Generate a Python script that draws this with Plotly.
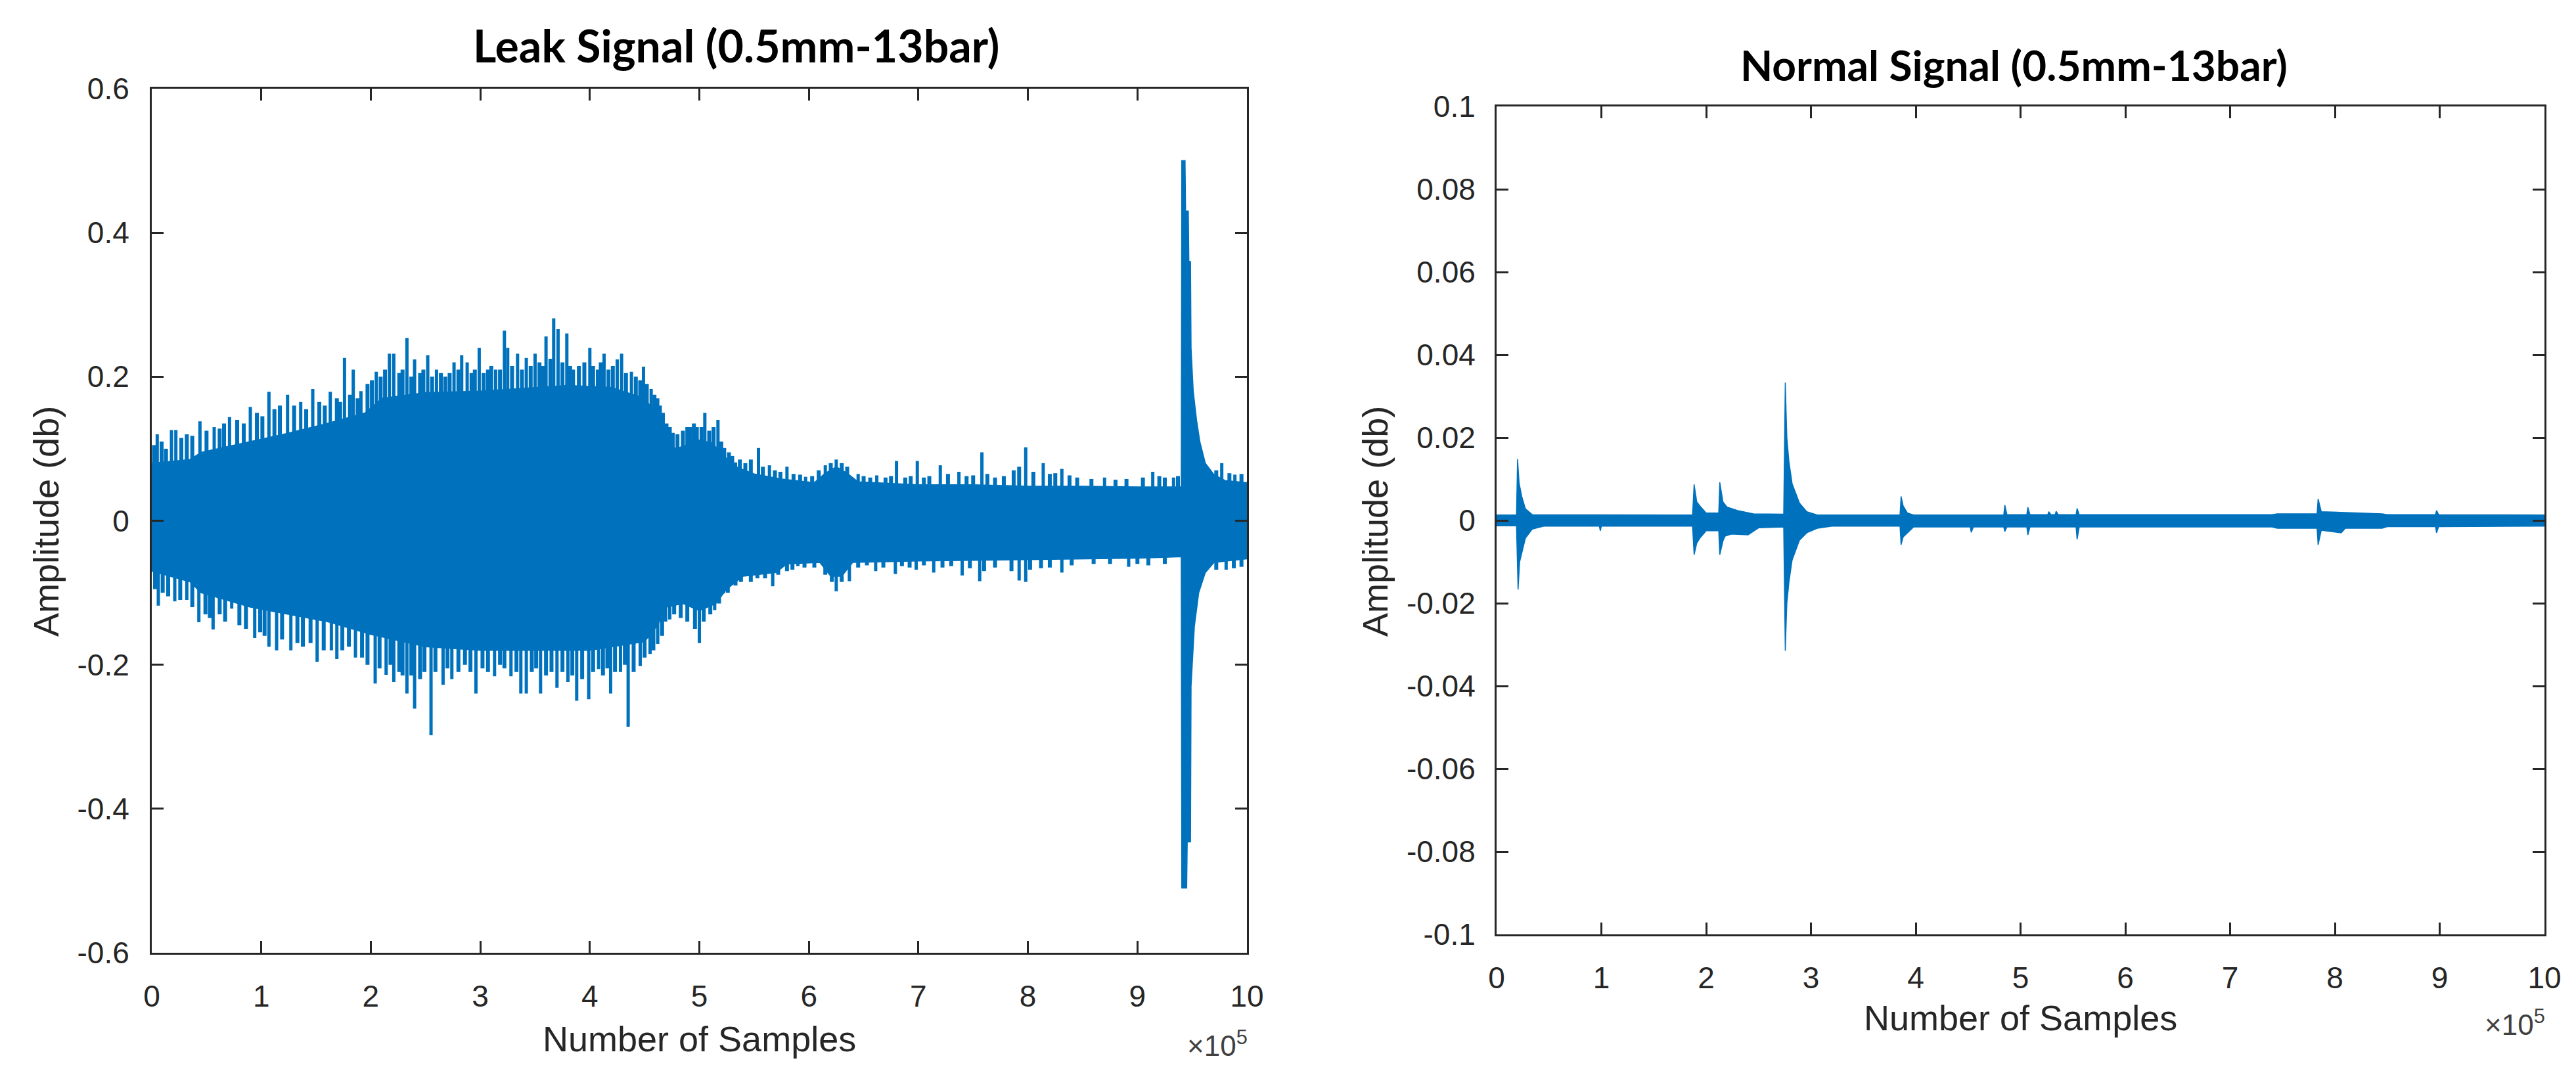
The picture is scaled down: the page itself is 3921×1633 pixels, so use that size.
import plotly.graph_objects as go

W, H = 3921, 1633
BLUE = "#0072BD"
AX = "#262626"

# ---------------- data (x in units of 1e5 samples) ----------------
x_ticks = [0, 1, 2, 3, 4, 5, 6, 7, 8, 9, 10]
x_tick_labels = ["0", "1", "2", "3", "4", "5", "6", "7", "8", "9", "10"]
leak_y_ticks = [-0.6, -0.4, -0.2, 0, 0.2, 0.4, 0.6]
leak_y_labels = ["-0.6", "-0.4", "-0.2", "0", "0.2", "0.4", "0.6"]
normal_y_ticks = [-0.1, -0.08, -0.06, -0.04, -0.02, 0, 0.02, 0.04, 0.06, 0.08, 0.1]
normal_y_labels = ["-0.1", "-0.08", "-0.06", "-0.04", "-0.02", "0", "0.02", "0.04", "0.06", "0.08", "0.1"]

# Leak signal: solid envelope (upper / lower)
leak_up_x = [0, 0.35, 0.45, 0.9, 1.2, 1.6, 1.95, 2.1, 2.5, 3.0, 3.5, 3.8, 4.2, 4.5, 4.6, 4.68,
             4.78, 4.88, 5.0, 5.12, 5.22, 5.35, 5.5, 5.75, 6.05, 6.15, 6.25, 6.35, 6.45, 7.0,
             7.5, 8.0, 8.5, 9.0, 9.40, 9.405, 9.435, 9.44, 9.465, 9.47, 9.485, 9.49, 9.51,
             9.54, 9.57, 9.62, 9.70, 9.80, 10.0]
leak_up = [0.08, 0.085, 0.095, 0.11, 0.12, 0.135, 0.15, 0.17, 0.178, 0.18, 0.185, 0.188, 0.185,
           0.17, 0.15, 0.125, 0.10, 0.105, 0.112, 0.108, 0.09, 0.074, 0.065, 0.058, 0.053, 0.066,
           0.075, 0.066, 0.054, 0.05, 0.05, 0.048, 0.048, 0.047, 0.047, 0.50, 0.50, 0.43, 0.43,
           0.36, 0.36, 0.24, 0.18, 0.14, 0.11, 0.08, 0.064, 0.056, 0.053]
leak_lo_x = [0, 0.35, 0.45, 0.9, 1.6, 2.0, 2.5, 3.0, 3.5, 4.0, 4.5, 4.62, 4.7, 4.85, 5.0, 5.15,
             5.25, 5.4, 5.7, 5.8, 6.1, 6.2, 6.3, 6.4, 7.0, 8.0, 9.0, 9.40, 9.405, 9.45, 9.455,
             9.485, 9.49, 9.52, 9.56, 9.62, 9.70, 10.0]
leak_lo = [-0.07, -0.085, -0.1, -0.12, -0.14, -0.158, -0.175, -0.18, -0.18, -0.18, -0.168,
           -0.145, -0.12, -0.115, -0.125, -0.115, -0.095, -0.077, -0.072, -0.06, -0.058, -0.077,
           -0.077, -0.058, -0.056, -0.054, -0.052, -0.05, -0.51, -0.51, -0.446, -0.446, -0.23,
           -0.147, -0.10, -0.072, -0.058, -0.053]

# Leak signal: tallest individual peaks above / below the solid envelope
leak_peak_up_x = [0.05, 0.18, 0.22, 0.44, 0.57, 0.71, 0.90, 1.07, 1.24, 1.36, 1.47, 1.63, 1.76,
                  1.84, 1.91, 2.05, 2.17, 2.21, 2.33, 2.40, 2.52, 2.60, 2.76, 2.83, 2.88, 2.99,
                  3.14, 3.22, 3.25, 3.34, 3.42, 3.50, 3.60, 3.67, 3.71, 3.79, 3.85, 4.00, 4.07,
                  4.13, 4.25, 4.29, 4.38, 4.49, 4.56, 4.62, 4.67, 4.76, 4.92, 4.98, 5.05, 5.17,
                  5.23, 5.33, 5.54, 5.64, 5.80, 5.97, 6.15, 6.25, 6.45, 6.62, 6.80, 6.99, 7.20,
                  7.37, 7.58, 7.98, 8.14, 8.31, 8.70, 9.14, 9.33, 9.77, 9.89]
leak_peak_up = [0.12, 0.126, 0.126, 0.138, 0.13, 0.144, 0.158, 0.179, 0.175, 0.165, 0.183, 0.179,
                0.226, 0.21, 0.18, 0.207, 0.232, 0.232, 0.254, 0.224, 0.23, 0.21, 0.22, 0.23,
                0.22, 0.24, 0.21, 0.264, 0.24, 0.232, 0.226, 0.232, 0.256, 0.281, 0.266, 0.26,
                0.21, 0.24, 0.21, 0.232, 0.224, 0.232, 0.207, 0.214, 0.183, 0.17, 0.15, 0.122,
                0.13, 0.13, 0.15, 0.14, 0.101, 0.081, 0.101, 0.077, 0.075, 0.061, 0.077, 0.085,
                0.065, 0.063, 0.083, 0.083, 0.077, 0.068, 0.095, 0.102, 0.080, 0.072, 0.06,
                0.068, 0.06, 0.08, 0.064]
leak_peak_lo_x = [0.06, 0.21, 0.32, 0.43, 0.56, 0.73, 0.94, 1.07, 1.14, 1.27, 1.51, 1.64, 1.69,
                  1.86, 2.04, 2.14, 2.21, 2.33, 2.40, 2.55, 2.66, 2.74, 2.96, 3.13, 3.28, 3.37,
                  3.42, 3.55, 3.70, 3.80, 3.88, 3.99, 4.08, 4.19, 4.28, 4.35, 4.46, 4.55, 4.62,
                  4.73, 4.93, 5.00, 5.14, 5.22, 5.41, 5.67, 5.90, 6.25, 6.37, 6.61, 6.79, 6.98,
                  7.14, 7.40, 7.56, 7.92, 7.98, 8.31, 8.92, 9.81]
leak_peak_lo = [-0.118, -0.112, -0.11, -0.141, -0.151, -0.122, -0.163, -0.175, -0.18, -0.18,
                -0.196, -0.18, -0.192, -0.19, -0.226, -0.214, -0.224, -0.24, -0.261, -0.298,
                -0.228, -0.22, -0.24, -0.216, -0.216, -0.24, -0.24, -0.24, -0.232, -0.224,
                -0.25, -0.248, -0.206, -0.24, -0.21, -0.286, -0.202, -0.185, -0.171, -0.137,
                -0.118, -0.17, -0.124, -0.101, -0.077, -0.091, -0.063, -0.098, -0.084, -0.07,
                -0.074, -0.068, -0.072, -0.076, -0.084, -0.083, -0.085, -0.072, -0.064, -0.068]

# Leak signal: the dense lower "grass" of peaks between the envelope and the tall peaks
leak_ripple_up_x = [0.02, 0.09, 0.13, 0.27, 0.32, 0.37, 0.50, 0.62, 0.66, 0.78, 0.84, 0.96, 1.01,
                    1.12, 1.17, 1.30, 1.41, 1.53, 1.58, 1.69, 1.72, 1.81, 1.88, 1.97, 2.01, 2.09,
                    2.13, 2.26, 2.29, 2.37, 2.45, 2.48, 2.56, 2.64, 2.68, 2.72, 2.80, 2.92, 2.95,
                    3.03, 3.07, 3.10, 3.18, 3.29, 3.38, 3.46, 3.54, 3.57, 3.64, 3.75, 3.82, 3.90,
                    3.95, 4.03, 4.10, 4.17, 4.21, 4.33, 4.42, 4.46, 4.52, 4.59, 4.64, 4.70, 4.73,
                    4.80, 4.85, 4.89, 4.95, 5.02, 5.09, 5.13, 5.20, 5.27, 5.30, 5.37, 5.42, 5.47,
                    5.58, 5.69, 5.74, 5.86, 5.92, 6.03, 6.09, 6.20, 6.30, 6.35, 6.50, 6.56, 6.70,
                    6.75, 6.88, 6.93, 7.05, 7.10, 7.27, 7.44, 7.50, 7.63, 7.70, 7.78, 7.87, 7.92,
                    8.05, 8.20, 8.25, 8.38, 8.45, 8.58, 8.80, 8.90, 9.05, 9.20, 9.25, 9.37, 9.72,
                    9.84, 9.95]
leak_ripple_up = [0.105, 0.11, 0.10, 0.115, 0.12, 0.118, 0.125, 0.128, 0.135, 0.14, 0.135, 0.15,
                  0.145, 0.155, 0.16, 0.16, 0.155, 0.165, 0.16, 0.17, 0.165, 0.175, 0.17, 0.19,
                  0.195, 0.2, 0.21, 0.205, 0.21, 0.2, 0.205, 0.21, 0.2, 0.205, 0.2, 0.205, 0.21,
                  0.205, 0.21, 0.205, 0.21, 0.215, 0.21, 0.215, 0.21, 0.215, 0.22, 0.215, 0.225,
                  0.22, 0.215, 0.215, 0.22, 0.215, 0.22, 0.21, 0.215, 0.205, 0.2, 0.195, 0.19,
                  0.175, 0.16, 0.135, 0.13, 0.12, 0.125, 0.13, 0.135, 0.13, 0.125, 0.13, 0.11,
                  0.095, 0.09, 0.085, 0.08, 0.085, 0.075, 0.07, 0.068, 0.065, 0.064, 0.062, 0.07,
                  0.08, 0.08, 0.075, 0.062, 0.06, 0.06, 0.062, 0.06, 0.062, 0.06, 0.062, 0.065,
                  0.062, 0.063, 0.065, 0.06, 0.062, 0.07, 0.075, 0.068, 0.065, 0.066, 0.063, 0.06,
                  0.058, 0.057, 0.058, 0.06, 0.062, 0.06, 0.062, 0.07, 0.066, 0.065]
leak_ripple_lo_x = [0.03, 0.10, 0.15, 0.26, 0.37, 0.49, 0.53, 0.62, 0.67, 0.80, 0.86, 0.99, 1.03,
                    1.19, 1.33, 1.38, 1.45, 1.57, 1.74, 1.80, 1.92, 1.97, 2.08, 2.18, 2.26, 2.29,
                    2.37, 2.45, 2.49, 2.59, 2.70, 2.80, 2.86, 2.91, 3.02, 3.07, 3.18, 3.22, 3.33,
                    3.47, 3.51, 3.60, 3.65, 3.75, 3.84, 3.93, 4.03, 4.12, 4.16, 4.23, 4.32, 4.40,
                    4.50, 4.58, 4.66, 4.69, 4.77, 4.83, 4.89, 4.96, 5.04, 5.10, 5.18, 5.26, 5.33,
                    5.38, 5.47, 5.53, 5.60, 5.72, 5.80, 5.85, 5.96, 6.05, 6.15, 6.21, 6.30, 6.45,
                    6.53, 6.68, 6.85, 6.92, 7.05, 7.22, 7.30, 7.47, 7.60, 7.70, 7.85, 8.02, 8.12,
                    8.20, 8.40, 8.60, 8.75, 9.00, 9.10, 9.25, 9.72, 9.88, 9.95]
leak_ripple_lo = [-0.095, -0.1, -0.105, -0.11, -0.12, -0.13, -0.135, -0.13, -0.14, -0.145, -0.15,
                  -0.155, -0.16, -0.165, -0.17, -0.175, -0.17, -0.18, -0.18, -0.175, -0.19, -0.2,
                  -0.205, -0.2, -0.21, -0.215, -0.215, -0.22, -0.21, -0.21, -0.205, -0.21, -0.2,
                  -0.21, -0.205, -0.21, -0.2, -0.205, -0.21, -0.21, -0.205, -0.215, -0.21, -0.21,
                  -0.215, -0.22, -0.21, -0.215, -0.205, -0.21, -0.2, -0.21, -0.19, -0.18, -0.16,
                  -0.14, -0.13, -0.135, -0.14, -0.15, -0.14, -0.13, -0.115, -0.1, -0.09, -0.085,
                  -0.085, -0.08, -0.08, -0.075, -0.07, -0.068, -0.065, -0.065, -0.075, -0.085,
                  -0.085, -0.065, -0.062, -0.065, -0.063, -0.065, -0.062, -0.065, -0.063, -0.066,
                  -0.07, -0.065, -0.07, -0.068, -0.066, -0.065, -0.062, -0.06, -0.06, -0.06,
                  -0.062, -0.06, -0.068, -0.066, -0.064]

# Normal signal: envelope (upper / lower)
normal_up_x = [0, 0.19, 0.20, 0.215, 0.24, 0.275, 0.34, 1.87, 1.885, 1.91, 1.95, 2.0, 2.12, 2.13,
               2.16, 2.2, 2.3, 2.45, 2.74, 2.755, 2.77, 2.79, 2.82, 2.89, 2.96, 3.06, 3.85, 3.86,
               3.88, 3.92, 3.98, 4.84, 4.85, 4.87, 5.06, 5.07, 5.09, 5.26, 5.27, 5.29, 5.33,
               5.34, 5.36, 5.53, 5.54, 5.56, 7.4, 7.45, 7.83, 7.84, 7.87, 8.06, 8.45, 8.5, 8.96,
               8.97, 8.99, 10.0]
normal_up = [0.0013, 0.0013, 0.0148, 0.009, 0.0058, 0.0028, 0.0014, 0.0013, 0.0087, 0.0045,
             0.0032, 0.0018, 0.0018, 0.0092, 0.0045, 0.0032, 0.0024, 0.0016, 0.0015, 0.0333,
             0.020, 0.0142, 0.0089, 0.0042, 0.0021, 0.0013, 0.0013, 0.0058, 0.0035, 0.0018,
             0.0013, 0.0013, 0.0037, 0.0014, 0.0014, 0.0032, 0.0014, 0.0014, 0.0021, 0.0014,
             0.0014, 0.0022, 0.0014, 0.0014, 0.0029, 0.0014, 0.0014, 0.0016, 0.0016, 0.0052,
             0.0021, 0.0019, 0.0016, 0.0014, 0.0014, 0.0024, 0.0014, 0.0013]
normal_lo_x = [0, 0.19, 0.205, 0.22, 0.24, 0.275, 0.34, 0.45, 0.98, 0.99, 1.0, 1.87, 1.885, 1.91,
               1.94, 2.0, 2.12, 2.13, 2.16, 2.18, 2.24, 2.4, 2.5, 2.74, 2.755, 2.77, 2.79, 2.82,
               2.89, 2.96, 3.06, 3.2, 3.85, 3.86, 3.88, 3.91, 3.98, 4.52, 4.53, 4.55, 4.84, 4.85,
               4.87, 5.06, 5.07, 5.09, 5.53, 5.54, 5.56, 7.4, 7.45, 7.83, 7.84, 7.87, 8.06, 8.1,
               8.45, 8.5, 8.96, 8.97, 8.99, 10.0]
normal_lo = [-0.0013, -0.0013, -0.0167, -0.010, -0.0079, -0.0043, -0.0021, -0.0014, -0.0014,
             -0.0025, -0.0014, -0.0014, -0.0083, -0.0055, -0.0043, -0.0025, -0.0025, -0.0083,
             -0.0050, -0.0038, -0.0033, -0.0035, -0.0018, -0.0016, -0.0315, -0.020, -0.0149,
             -0.0096, -0.0048, -0.0030, -0.0019, -0.0014, -0.0014, -0.0059, -0.0040, -0.0033,
             -0.0016, -0.0016, -0.0029, -0.0016, -0.0016, -0.0027, -0.0016, -0.0016, -0.0035,
             -0.0016, -0.0016, -0.0046, -0.0016, -0.0016, -0.0019, -0.0019, -0.0059, -0.0024,
             -0.0030, -0.0019, -0.0019, -0.0015, -0.0015, -0.0030, -0.0015, -0.0014]

# ---------------- figure ----------------
def px_x(p):
    return p / W

def px_y(p):
    return 1 - p / H

fig = go.Figure()

def envelope(xu, yu, xl, yl, xa, ya):
    fig.add_trace(go.Scatter(
        x=list(xu) + list(reversed(xl)),
        y=list(yu) + list(reversed(yl)),
        fill="toself", fillcolor=BLUE, mode="lines",
        line=dict(color=BLUE, width=1.5), xaxis=xa, yaxis=ya,
        hoverinfo="skip", showlegend=False))

def peaks(xs, ys, xa, ya, width):
    xx, yy = [], []
    for a, b in zip(xs, ys):
        xx += [a, a, None]
        yy += [0, b, None]
    fig.add_trace(go.Scatter(x=xx, y=yy, mode="lines",
                             line=dict(color=BLUE, width=width),
                             xaxis=xa, yaxis=ya, hoverinfo="skip", showlegend=False))

envelope(leak_up_x, leak_up, leak_lo_x, leak_lo, "x", "y")
peaks(leak_ripple_up_x, leak_ripple_up, "x", "y", 6)
peaks(leak_ripple_lo_x, leak_ripple_lo, "x", "y", 6)
peaks(leak_peak_up_x, leak_peak_up, "x", "y", 5)
peaks(leak_peak_lo_x, leak_peak_lo, "x", "y", 5)
envelope(normal_up_x, normal_up, normal_lo_x, normal_lo, "x2", "y2")

tickfont = dict(family="Liberation Sans, Arial, sans-serif", size=46, color=AX)
common_axis = dict(showline=True, linecolor=AX, linewidth=3, mirror="ticks",
                   ticks="inside", ticklen=18, tickwidth=2.5, tickcolor=AX,
                   showgrid=False, zeroline=False, tickfont=tickfont, automargin=False)

fig.update_layout(
    width=W, height=H, margin=dict(l=0, r=0, t=0, b=0),
    paper_bgcolor="white", plot_bgcolor="white", showlegend=False,
    xaxis=dict(domain=[px_x(223), px_x(1890)], range=[0, 10], tickvals=x_ticks,
               ticktext=x_tick_labels, anchor="y", ticklabelstandoff=24, **common_axis),
    yaxis=dict(domain=[px_y(1442), px_y(127)], range=[-0.6, 0.6], tickvals=leak_y_ticks,
               ticktext=leak_y_labels, anchor="x", ticklabelstandoff=22, **common_axis),
    xaxis2=dict(domain=[px_x(2270), px_x(3865)], range=[0, 10], tickvals=x_ticks,
                ticktext=x_tick_labels, anchor="y2", ticklabelstandoff=24, **common_axis),
    yaxis2=dict(domain=[px_y(1414), px_y(154)], range=[-0.1, 0.1], tickvals=normal_y_ticks,
                ticktext=normal_y_labels, anchor="x2", ticklabelstandoff=20, **common_axis),
)

labfont = dict(family="Liberation Sans, Arial, sans-serif", size=54, color=AX)
titlefont = dict(family="Lato, sans-serif", size=68, color="black")
expfont = dict(family="Liberation Sans, Arial, sans-serif", size=44, color="#404040")

ann = [
    dict(text="<b>Leak Signal (0.5mm-13bar)</b>", x=px_x(1112), y=px_y(60), font=titlefont),
    dict(text="<b>Normal Signal (0.5mm-13bar)</b>", x=px_x(3057), y=px_y(90),
         font=dict(family="Lato, sans-serif", size=64, color="black")),
    dict(text="Amplitude (db)", x=px_x(62), y=px_y(786), textangle=-90, font=labfont),
    dict(text="Amplitude (db)", x=px_x(2085), y=px_y(786), textangle=-90, font=labfont),
    dict(text="Number of Samples", x=px_x(1056), y=px_y(1573), font=labfont),
    dict(text="Number of Samples", x=px_x(3067), y=px_y(1541), font=labfont),
    dict(text="\u00d710<sup>5</sup>", x=px_x(1893), y=px_y(1580), xanchor="right", font=expfont),
    dict(text="\u00d710<sup>5</sup>", x=px_x(3868), y=px_y(1548), xanchor="right", font=expfont),
]
for a in ann:
    a.setdefault("xanchor", "center")
    a.setdefault("yanchor", "middle")
    fig.add_annotation(xref="paper", yref="paper", showarrow=False, **a)

fig.write_html("out.html")
